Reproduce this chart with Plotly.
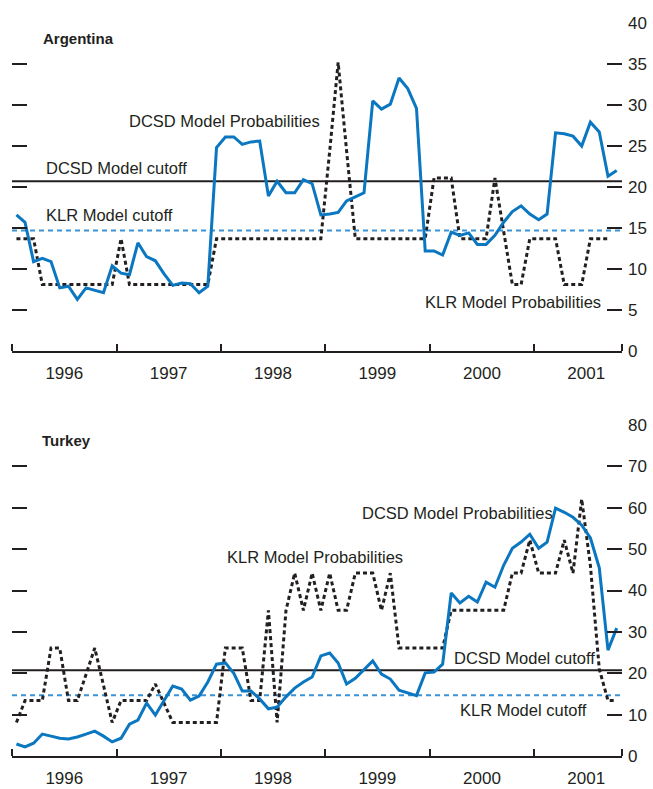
import pandas as pd
import plotly.graph_objects as go

# ---------------- data ----------------
months = pd.date_range("1996-01-01", periods=70, freq="MS")

arg_dcsd = [16.6, 15.7, 10.9, 11.3, 10.9, 7.7, 7.9, 6.3, 7.7, 7.4,
            7.1, 10.4, 9.5, 9.3, 13.2, 11.5, 11.0, 9.4, 8.0, 8.3,
            8.2, 7.1, 7.9, 24.8, 26.1, 26.1, 25.2, 25.5, 25.6, 18.9,
            20.7, 19.3, 19.3, 20.9, 20.4, 16.6, 16.7, 16.9, 18.3, 18.8,
            19.3, 30.5, 29.5, 30.1, 33.3, 32.0, 29.6, 12.2, 12.2, 11.7,
            14.5, 14.1, 14.4, 13.0, 13.0, 14.1, 15.7, 17.0, 17.7, 16.7,
            16.0, 16.7, 26.6, 26.5, 26.2, 25.0, 27.9, 26.7, 21.3, 22.0]

arg_klr = [13.7, 13.7, 13.7, 8.1, 8.1, 8.1, 8.1, 8.1, 8.1, 8.1,
           8.1, 8.1, 13.7, 8.1, 8.1, 8.1, 8.1, 8.1, 8.1, 8.1,
           8.1, 8.1, 8.1, 13.7, 13.7, 13.7, 13.7, 13.7, 13.7, 13.7,
           13.7, 13.7, 13.7, 13.7, 13.7, 13.7, 24.4, 35.2, 24.4, 13.7,
           13.7, 13.7, 13.7, 13.7, 13.7, 13.7, 13.7, 13.7, 21.1, 21.1,
           21.1, 13.7, 13.7, 13.7, 13.7, 21.1, 14.6, 8.1, 8.1, 13.7,
           13.7, 13.7, 13.7, 8.1, 8.1, 8.1, 13.7, 13.7, 13.7, None]

tur_dcsd = [2.9, 2.2, 3.1, 5.3, 4.8, 4.3, 4.1, 4.6, 5.3, 6.0,
            4.8, 3.4, 4.3, 7.7, 8.7, 12.8, 9.9, 13.5, 16.9, 16.2,
            13.5, 14.5, 17.9, 22.2, 22.5, 20.0, 15.7, 15.7, 13.8, 11.4,
            11.8, 14.3, 16.4, 17.9, 19.1, 24.2, 24.9, 22.5, 17.4, 18.8,
            21.0, 23.0, 19.8, 18.6, 15.9, 15.2, 14.6, 20.1, 20.3, 22.2,
            39.4, 37.0, 38.6, 37.2, 42.0, 40.8, 46.1, 50.2, 51.7, 53.6,
            50.2, 51.7, 59.9, 58.9, 57.7, 55.8, 52.7, 45.5, 25.6, 30.9]

tur_klr = [8.1, 13.4, 13.4, 13.4, 26.1, 26.1, 13.4, 13.4, 19.7, 26.1,
           17.1, 8.1, 13.4, 13.4, 13.4, 13.4, 17.4, 12.7, 8.1, 8.1,
           8.1, 8.1, 8.1, 8.1, 26.1, 26.1, 26.1, 13.4, 13.4, 35.2,
           8.1, 35.2, 44.2, 35.2, 44.2, 35.2, 44.2, 35.2, 35.2, 44.2,
           44.2, 44.2, 35.2, 44.2, 26.1, 26.1, 26.1, 26.1, 26.1, 26.1,
           35.2, 35.2, 35.2, 35.2, 35.2, 35.2, 35.2, 44.2, 44.2, 52.2,
           44.2, 44.2, 44.2, 52.2, 44.2, 62.1, 46.0, 21.0, 13.4, 13.4]

dcsd_cutoff = 20.7
klr_cutoff = 14.7

year_labels = ["1996", "1997", "1998", "1999", "2000", "2001"]
year_mid = [f"{y}-07-02" for y in year_labels]
year_bounds = [f"{y}-01-01" for y in year_labels]
x_start = "1996-01-01"
x_end = "2001-11-04"

arg_ticks = [0, 5, 10, 15, 20, 25, 30, 35, 40]
tur_ticks = [0, 10, 20, 30, 40, 50, 60, 70, 80]

# ---------------- styles ----------------
FONT = "Liberation Sans, Arial, Helvetica, sans-serif"
TXT = "#231f20"
BLUE = "#0a77c0"
LBLUE = "#3a93d6"

fig = go.Figure()

def add_panel(dcsd, klr, xa, ya):
    fig.add_trace(go.Scatter(x=[x_start, x_end], y=[dcsd_cutoff, dcsd_cutoff], mode="lines",
                             line=dict(color=TXT, width=2), xaxis=xa, yaxis=ya, hoverinfo="skip"))
    fig.add_trace(go.Scatter(x=[x_start, x_end], y=[klr_cutoff, klr_cutoff], mode="lines",
                             line=dict(color=LBLUE, width=2, dash="5px,4px"), xaxis=xa, yaxis=ya,
                             hoverinfo="skip"))
    fig.add_trace(go.Scatter(x=months, y=klr, mode="lines", xperiod="M1", xperiodalignment="middle",
                             line=dict(color=TXT, width=3, dash="4px,3px"), xaxis=xa, yaxis=ya,
                             connectgaps=False))
    fig.add_trace(go.Scatter(x=months, y=dcsd, mode="lines", xperiod="M1", xperiodalignment="middle",
                             line=dict(color=BLUE, width=3), xaxis=xa, yaxis=ya))

add_panel(arg_dcsd, arg_klr, "x", "y")
add_panel(tur_dcsd, tur_klr, "x2", "y2")

H = 789.0
xcommon = dict(type="date", range=[x_start, x_end], showgrid=False, zeroline=False,
               automargin=False,
               showline=True, linecolor=TXT, linewidth=2,
               tickmode="array", tickvals=year_mid, ticktext=year_labels, ticks="",
               ticklabelstandoff=6,
               tickfont=dict(family=FONT, size=17, color=TXT),
               minor=dict(tickmode="array", tickvals=year_bounds + [x_end], ticks="inside",
                          ticklen=7, tickwidth=2, tickcolor=TXT, showgrid=False))
ycommon = dict(side="right", showgrid=False, zeroline=False, showline=False,
               automargin=False,
               ticks="inside", ticklen=15, tickwidth=2, tickcolor=TXT, mirror="ticks",
               ticklabelstandoff=5,
               tickmode="array", tickfont=dict(family=FONT, size=17, color=TXT))

fig.update_layout(
    template="none",
    width=653, height=789,
    margin=dict(l=12, r=31, t=0, b=0),
    paper_bgcolor="white", plot_bgcolor="white",
    showlegend=False,
    xaxis=dict(xcommon, anchor="y", domain=[0, 1]),
    xaxis2=dict(xcommon, anchor="y2", domain=[0, 1]),
    yaxis=dict(ycommon, anchor="x", range=[0, 40], tickvals=arg_ticks,
               domain=[1 - 351 / H, 1 - 23 / H]),
    yaxis2=dict(ycommon, anchor="x2", range=[0, 80], tickvals=tur_ticks,
                domain=[1 - 756 / H, 1 - 425 / H]),
)

def ann(text, x, y, xr, yr, size=16.5, bold=False):
    fig.add_annotation(text=f"<b>{text}</b>" if bold else text, x=x, y=y, xref=xr, yref=yr,
                       xanchor="left", yanchor="middle", showarrow=False,
                       font=dict(family=FONT, size=size, color=TXT))

ann("Argentina", "1996-04-12", 38.1, "x", "y", size=15, bold=True)
ann("DCSD Model Probabilities", "1997-02-06", 28.1, "x", "y")
ann("DCSD Model cutoff", "1996-04-22", 22.3, "x", "y")
ann("KLR Model cutoff", "1996-04-22", 16.6, "x", "y")
ann("KLR Model Probabilities", "1999-12-08", 6.0, "x", "y")

ann("Turkey", "1996-04-08", 76.3, "x2", "y2", size=15, bold=True)
ann("KLR Model Probabilities", "1998-01-15", 48.1, "x2", "y2")
ann("DCSD Model Probabilities", "1999-05-01", 58.8, "x2", "y2")
ann("DCSD Model cutoff", "2000-03-19", 23.8, "x2", "y2")
ann("KLR Model cutoff", "2000-04-10", 11.0, "x2", "y2")

fig.write_html("out.html", config={"displayModeBar": False},
               post_script="document.body.style.margin='0px';document.body.style.overflow='hidden';")
